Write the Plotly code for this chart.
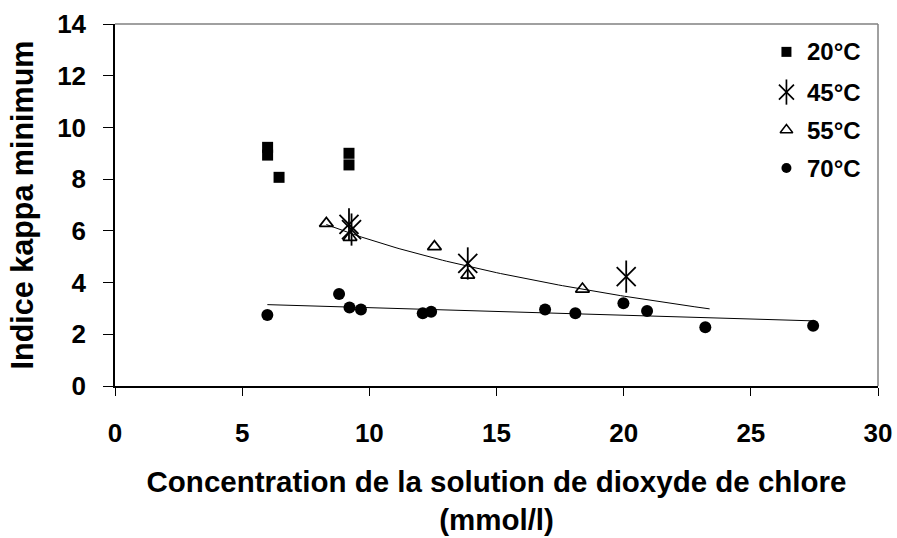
import numpy as np
import plotly.graph_objects as go

# Minimum kappa number vs chlorine dioxide concentration, by temperature
x20 = [6.0, 6.0, 6.45, 9.2, 9.2]
y20 = [9.23, 8.93, 8.07, 9.0, 8.55]

x45 = [9.2, 9.3, 13.87, 20.1]
y45 = [6.25, 6.05, 4.74, 4.23]

x55 = [8.31, 9.24, 12.56, 13.87, 18.38]
y55 = [6.29, 5.75, 5.39, 4.29, 3.75]

x70 = [5.99, 8.81, 9.22, 9.67, 12.1, 12.43, 16.91, 18.1, 19.99, 20.92, 23.21, 27.45]
y70 = [2.75, 3.56, 3.04, 2.96, 2.81, 2.87, 2.96, 2.81, 3.2, 2.9, 2.27, 2.33]

legend_labels = ["20°C", "45°C", "55°C", "70°C"]
x_ticks = [0, 5, 10, 15, 20, 25, 30]
y_ticks = [0, 2, 4, 6, 8, 10, 12, 14]

FAMILY = "Liberation Sans, Arial, sans-serif"
BLACK = "#000000"


def bold(size):
    return dict(family=FAMILY, size=size, color=BLACK, weight="bold")


fig = go.Figure()

# Logarithmic trend for the 55°C series, extended 5 units forward
b55, a55 = np.polyfit(np.log(x55), y55, 1)
xt55 = np.linspace(min(x55), max(x55) + 5, 100)
fig.add_trace(go.Scatter(x=xt55, y=a55 + b55 * np.log(xt55), mode="lines",
                         line=dict(color=BLACK, width=1), hoverinfo="skip"))

# Linear trend for the 70°C series
m70, c70 = np.polyfit(x70, y70, 1)
xt70 = np.array([min(x70), max(x70)])
fig.add_trace(go.Scatter(x=xt70, y=m70 * xt70 + c70, mode="lines",
                         line=dict(color=BLACK, width=1), hoverinfo="skip"))

# Series markers
fig.add_trace(go.Scatter(x=x20, y=y20, mode="markers", name=legend_labels[0],
                         marker=dict(symbol="square", size=11, color=BLACK)))
# six-armed star: diagonal cross plus a vertical bar
fig.add_trace(go.Scatter(x=x45, y=y45, mode="markers", name=legend_labels[1],
                         marker=dict(symbol="x-thin-open", size=19, color=BLACK,
                                     line=dict(color=BLACK, width=1.8))))
fig.add_trace(go.Scatter(x=x45, y=y45, mode="markers", name=legend_labels[1],
                         marker=dict(symbol="line-ns-open", size=23, color=BLACK,
                                     line=dict(color=BLACK, width=1.8)),
                         hoverinfo="skip"))
fig.add_trace(go.Scatter(x=x55, y=y55, mode="markers", name=legend_labels[2],
                         marker=dict(symbol="triangle-up-open", size=12, color=BLACK,
                                     line=dict(color=BLACK, width=1.7))))
fig.add_trace(go.Scatter(x=x70, y=y70, mode="markers", name=legend_labels[3],
                         marker=dict(symbol="circle", size=12, color=BLACK)))

# Legend drawn on an overlay axis spanning the plot area
leg_x = 0.880
leg_rows = [0.923, 0.812, 0.707, 0.602]
leg_syms = [
    [dict(symbol="square", size=10, color=BLACK)],
    [dict(symbol="x-thin-open", size=15, color=BLACK, line=dict(color=BLACK, width=1.7)),
     dict(symbol="line-ns-open", size=18, color=BLACK, line=dict(color=BLACK, width=1.7))],
    [dict(symbol="triangle-up-open", size=11, color=BLACK, line=dict(color=BLACK, width=1.5))],
    [dict(symbol="circle", size=10, color=BLACK)],
]
for row, syms, lab in zip(leg_rows, leg_syms, legend_labels):
    for s in syms:
        fig.add_trace(go.Scatter(x=[leg_x], y=[row], mode="markers", marker=s,
                                 xaxis="x2", yaxis="y2", hoverinfo="skip"))
    fig.add_annotation(x=leg_x + 0.024, y=row, xref="x2", yref="y2", text=lab,
                       showarrow=False, xanchor="left", yanchor="middle",
                       font=bold(24))

axis_common = dict(
    showgrid=False, zeroline=False, showline=True, linecolor=BLACK, linewidth=1.5,
    ticks="outside", tickcolor=BLACK, tickwidth=1.2, tickfont=bold(26),
    automargin=False,
)

fig.update_layout(
    width=897, height=538,
    margin=dict(l=115, r=19, t=24, b=152),
    paper_bgcolor="white", plot_bgcolor="white",
    showlegend=False,
    xaxis=dict(range=[0, 30], tickvals=x_ticks, ticklen=8, ticklabelstandoff=15,
               title=dict(text="Concentration de la solution de dioxyde de chlore<br>(mmol/l)",
                          font=bold(29.5), standoff=24),
               **axis_common),
    yaxis=dict(range=[0, 14], tickvals=y_ticks, ticklen=10, ticklabelstandoff=12,
               title=dict(text="Indice kappa minimum", font=bold(30.5), standoff=14),
               **axis_common),
    xaxis2=dict(overlaying="x", range=[0, 1], visible=False),
    yaxis2=dict(overlaying="y", range=[0, 1], visible=False),
    # thin grey frame on the top and right sides of the plot area
    shapes=[
        dict(type="line", xref="paper", yref="paper", x0=0, y0=1, x1=1, y1=1,
             line=dict(color="#808080", width=1.5), layer="above"),
        dict(type="line", xref="paper", yref="paper", x0=1, y0=0, x1=1, y1=1,
             line=dict(color="#808080", width=1.5), layer="above"),
    ],
)

fig.write_html("out.html")
